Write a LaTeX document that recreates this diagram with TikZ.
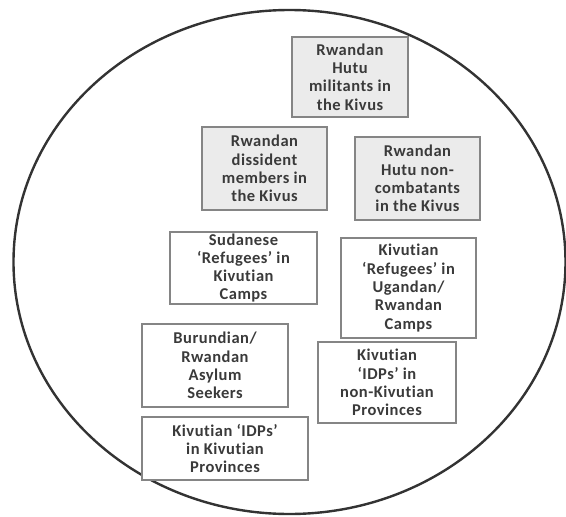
\documentclass[tikz,border=0pt]{standalone}
\usepackage{fontspec}
\setmainfont[Ligatures={NoCommon,NoRare},LetterSpace=3]{Carlito}
\usepackage{xcolor}
\usepackage{tikz}
\definecolor{inkgray}{HTML}{3A3A3A}
\definecolor{framegray}{HTML}{858585}
\definecolor{boxgray}{HTML}{EBEBEB}
\definecolor{ringgray}{HTML}{333333}

\begin{document}
\begin{tikzpicture}[
    x=1pt, y=-1pt,
    font=\fontsize{16.5}{18.3}\selectfont\bfseries,
    box/.style={draw=framegray, line width=1.1pt, align=center,
                inner sep=0pt, text=inkgray, fill=white},
    rw/.style ={box, fill=boxgray},
    dims/.style 2 args={minimum width=#1pt, minimum height=#2pt},
    ring/.style={draw=ringgray, line width=2.4pt}
]
\useasboundingbox (0,0) rectangle (566,517);
% --- enclosing ellipse ---------------------------------------------------
\draw[ring] (289.5,262) ellipse [x radius=276pt, y radius=252pt];
% --- Rwandan groups (shaded) ---------------------------------------------
\node[rw, dims={116}{80}]  (militants) at (350,77)
      {Rwandan\\Hutu\\militants in\\the Kivus};
\node[rw, dims={125}{83}]  (dissident) at (264.5,168.5)
      {Rwandan\\dissident\\members in\\the Kivus};
\node[rw, dims={125}{83}]  (noncomb)   at (417.5,178.5)
      {Rwandan\\Hutu non-\\combatants\\in the Kivus};
% --- refugees / asylum seekers / IDPs ------------------------------------
\node[box, dims={147}{72}] (sudanese)  at (243.5,268)
      {Sudanese\\`Refugees' in\\Kivutian\\Camps};
\node[box, dims={135}{100}] (ugandan)  at (408.5,288)
      {Kivutian\\`Refugees' in\\Ugandan/\\Rwandan\\Camps};
\node[box, dims={146}{83}] (asylum)    at (215,365.5)
      {Burundian/\\Rwandan\\Asylum\\Seekers};
\node[box, dims={138}{81}] (idpout)    at (387,382.5)
      {Kivutian\\`IDPs' in\\non-Kivutian\\Provinces};
\node[box, dims={166}{63}] (idpin)     at (225,448.5)
      {Kivutian `IDPs'\\in Kivutian\\Provinces};
\end{tikzpicture}
\end{document}
